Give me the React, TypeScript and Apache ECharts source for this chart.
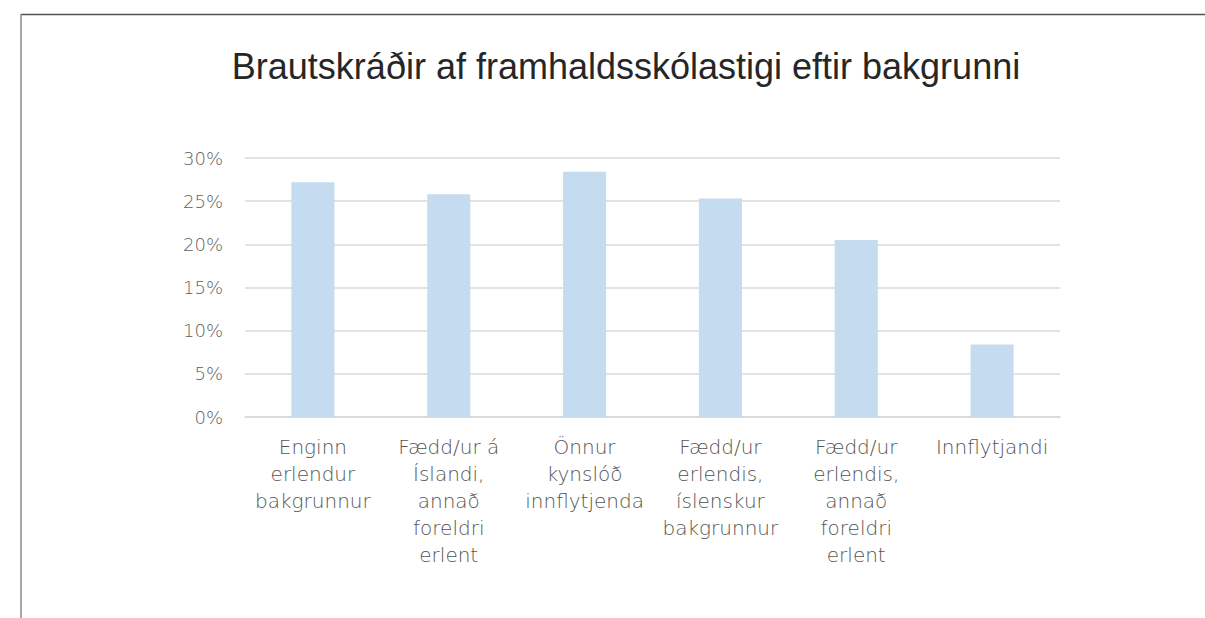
import React, { useEffect, useRef } from "react";
import * as echarts from "echarts";

const TITLE = "Brautskráðir af framhaldsskólastigi eftir bakgrunni";
const categories = [
  "Enginn\nerlendur\nbakgrunnur",
  "Fædd/ur á\nÍslandi,\nannað\nforeldri\nerlent",
  "Önnur\nkynslóð\ninnflytjenda",
  "Fædd/ur\nerlendis,\níslenskur\nbakgrunnur",
  "Fædd/ur\nerlendis,\nannað\nforeldri\nerlent",
  "Innflytjandi",
];
const values = [0.272, 0.258, 0.284, 0.253, 0.205, 0.084];
const yTicks = { min: 0, max: 0.3, interval: 0.05 };

export default function App() {
  const ref = useRef<HTMLDivElement>(null);
  useEffect(() => {
    if (!ref.current) return;
    const chart = echarts.init(ref.current, undefined, { renderer: "svg" });
    chart.setOption({
      animation: false,
      backgroundColor: "#ffffff",
      graphic: [
        { type: "line", shape: { x1: 21, y1: 14.5, x2: 1205, y2: 14.5 }, style: { stroke: "#505050", lineWidth: 1.5 } },
        { type: "line", shape: { x1: 21, y1: 14, x2: 21, y2: 618 }, style: { stroke: "#8a8a8a", lineWidth: 1.5 } },
        {
          type: "text",
          x: 626,
          y: 48,
          style: {
            text: TITLE,
            fill: "#262626",
            font: "300 36px 'Liberation Sans', Arial, sans-serif",
            textAlign: "center",
            textVerticalAlign: "top",
          },
        },
      ],
      grid: { left: 245, right: 145, top: 158, bottom: 201, containLabel: false },
      xAxis: {
        type: "category",
        data: categories,
        axisLine: { show: true, lineStyle: { color: "#d9d9d9", width: 1.5 } },
        axisTick: { show: false },
        axisLabel: {
          interval: 0,
          margin: 16,
          color: "#555555",
          fontSize: 20,
          fontFamily: "'DejaVu Sans', sans-serif",
          fontWeight: 200,
          lineHeight: 27,
          align: "center",
        },
      },
      yAxis: {
        type: "value",
        min: yTicks.min,
        max: yTicks.max,
        interval: yTicks.interval,
        axisLine: { show: false },
        axisTick: { show: false },
        splitLine: { lineStyle: { color: "#d9d9d9", width: 1.5 } },
        axisLabel: {
          margin: 22,
          color: "#5f5f5f",
          fontSize: 18,
          fontFamily: "'DejaVu Sans', sans-serif",
          fontWeight: 200,
          formatter: (v: number) => Math.round(v * 100) + "%",
        },
      },
      series: [
        {
          type: "bar",
          data: values,
          barWidth: "31.7%",
          itemStyle: { color: "#c5dcf0" },
        },
      ],
    });
    return () => chart.dispose();
  }, []);
  return (
    <div
      ref={ref}
      style={{ position: "fixed", left: 0, top: 0, width: 1205, height: 618 }}
    />
  );
}
